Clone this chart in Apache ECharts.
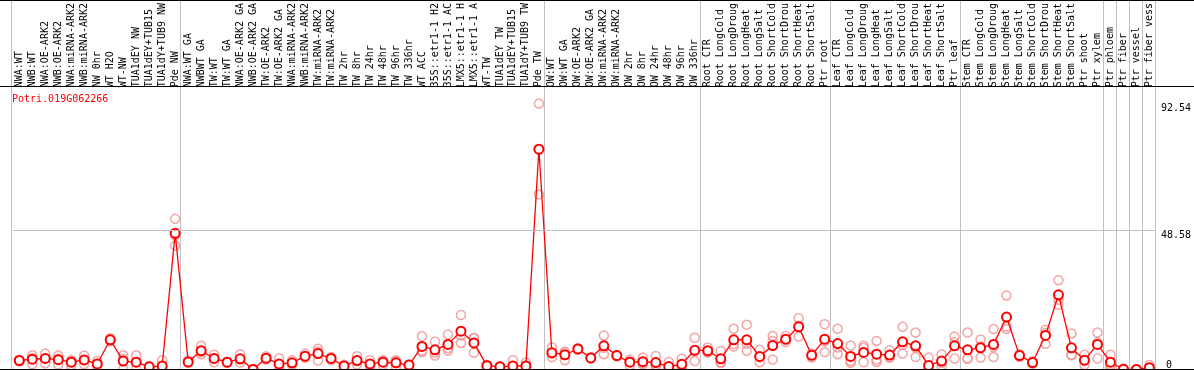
<!DOCTYPE html>
<html><head><meta charset="utf-8">
<script src="https://cdn.jsdelivr.net/npm/echarts@6/dist/echarts.min.js"></script>
<style>html,body{margin:0;padding:0;background:#fff}#c{width:1194px;height:370px}</style>
</head><body><div id="c"></div>
<script>
const geneName = 'Potri.019G062266';
const categories = ['NWA:WT','NWB:WT','NWA:OE-ARK2','NWB:OE-ARK2','NWA:miRNA-ARK2','NWB:miRNA-ARK2','NW 0hr','WT H2O','WT-NW','TUA1dEY NW','TUA1dEY+TUB15','TUA1dY+TUB9 NW','Pde NW',
'NWA:WT GA','NWBWT GA','TW:WT','TW:WT GA','NWA:OE-ARK2 GA','NWB:OE-ARK2 GA','TW:OE-ARK2','TW:OE-ARK2 GA','NWA:miRNA-ARK2','NWB:miRNA-ARK2','TW:miRNA-ARK2','TW:miRNA-ARK2','TW 2hr','TW 8hr','TW 24hr','TW 48hr','TW 96hr','TW 336hr','WT ACC','35S::etr1-1 H2','35S::etr1-1 AC','LMX5::etr1-1 H','LMX5::etr1-1 A','WT-TW','TUA1dEY TW','TUA1dEY+TUB15','TUA1dY+TUB9 TW','Pde TW',
'OW:WT','OW:WT GA','OW:OE-ARK2','OW:OE-ARK2 GA','OW:miRNA-ARK2','OW:miRNA-ARK2','OW 2hr','OW 8hr','OW 24hr','OW 48hr','OW 96hr','OW 336hr',
'Root CTR','Root LongCold','Root LongDroug','Root LongHeat','Root LongSalt','Root ShortCold','Root ShortDrou','Root ShortHeat','Root ShortSalt','Ptr root',
'Leaf CTR','Leaf LongCold','Leaf LongDroug','Leaf LongHeat','Leaf LongSalt','Leaf ShortCold','Leaf ShortDrou','Leaf ShortHeat','Leaf ShortSalt','Ptr leaf',
'Stem CTR','Stem LongCold','Stem LongDroug','Stem LongHeat','Stem LongSalt','Stem ShortCold','Stem ShortDrou','Stem ShortHeat','Stem ShortSalt','Ptr shoot','Ptr xylem',
'Ptr phloem','Ptr fiber','Ptr vessel','Ptr fiber vess'];
// indices of categories after which a divider is drawn
const groupEndIdx = [12, 40, 52, 62, 72, 83, 84, 85, 86, 87];
const meanValues = [3.3,3.75,4.0,3.6,2.7,3.5,2.1,10.5,3.1,2.7,1.1,1.4,47.5,
2.8,6.7,4.0,2.7,3.9,0.2,4.1,2.1,2.5,4.8,5.7,4.0,1.4,3.3,2.1,2.7,2.5,1.7,8.2,7.0,8.9,13.5,9.4,1.5,1.1,1.4,1.4,76.7,
6.0,5.3,7.3,4.2,8.4,5.0,2.7,2.9,2.6,1.2,2.0,6.9,
6.7,3.9,10.5,10.5,4.7,8.5,10.7,15.0,5.1,10.7,
9.2,4.7,6.1,5.5,5.2,9.8,8.4,1.6,3.1,8.4,
7.0,7.7,8.9,18.4,5.0,2.6,12.0,26.1,7.7,3.4,8.9,
2.7,0.3,0.2,0.8];
const rep1 = [3.6,5.1,5.7,5.0,3.5,5.0,3.1,11.0,5.1,5.1,1.3,3.4,52.5,
3.3,8.4,5.3,2.9,5.5,0.3,4.8,4.1,3.4,5.7,7.4,4.5,1.8,4.8,3.4,3.4,3.4,1.9,11.7,9.9,12.3,19.1,11.1,1.8,1.2,3.4,2.6,92.54,
7.9,6.3,7.6,4.4,12.0,5.2,3.6,4.3,4.9,2.8,3.9,11.2,
7.8,6.6,14.3,15.7,7.0,11.8,11.8,18.0,5.7,15.9,
14.3,8.5,8.4,10.1,6.9,15.0,13.0,4.3,5.4,11.6,
13.0,10.6,14.2,25.9,5.5,3.0,14.0,31.2,12.7,5.3,13.0,
5.3,0.4,0.2,1.7];
const rep2 = [3.0,2.0,2.3,1.9,1.6,2.0,1.1,10.0,0.3,0.3,0.9,0.3,43.2,
2.5,5.5,2.7,2.5,2.6,0.0,3.6,0.7,1.8,4.3,3.3,3.5,1.0,1.9,1.4,1.7,1.1,1.5,6.2,5.0,6.8,9.4,6.0,1.2,0.9,0.3,0.2,61.0,
4.5,3.4,7.0,4.0,5.5,4.8,1.6,2.0,1.2,0.3,0.9,3.1,
6.1,2.4,8.2,6.7,2.7,3.6,9.7,11.6,4.3,6.2,
5.5,2.5,2.7,2.8,4.3,5.7,4.5,0.2,1.4,4.0,
4.0,4.3,4.5,14.2,4.5,2.2,9.1,22.7,5.1,1.7,4.0,
1.0,0.2,0.2,0.3];
const rep3 = [3.3,4.1,4.0,3.9,3.0,3.5,2.1,10.5,3.9,2.7,1.1,0.5,46.8,
2.6,6.2,4.0,2.7,3.6,0.3,3.9,1.5,2.3,4.4,6.4,4.0,1.4,3.2,1.5,3.0,3.0,1.7,6.7,6.1,7.6,12.0,11.1,1.5,1.2,0.5,1.4,76.6,
5.6,6.2,7.3,4.2,7.7,5.0,2.9,2.4,1.7,0.5,1.2,6.4,
6.2,2.7,9.0,9.1,4.4,10.1,10.6,15.4,5.3,10.0,
7.8,3.1,7.6,3.6,4.4,8.7,7.7,0.3,2.5,9.6,
4.0,8.2,8.0,15.1,5.0,2.6,12.9,24.4,5.3,3.2,9.6,
1.8,0.3,0.2,0.4];
const yLabelValues = [48.58, 92.54];
const yZeroLabel = [0];
const yGridValues = [48.58];

const FONT = 'DejaVu Sans Mono';
const boundaries = Array.from({length: categories.length + 1}, (_, i) => String(i));
const dividerSet = new Set([0].concat(groupEndIdx.map(i => i + 1)));
const replicateData = [];
[rep1, rep2, rep3].forEach(r => r.forEach((v, i) => replicateData.push([i, v])));

const chart = echarts.init(document.getElementById('c'), null, {renderer: 'canvas'});
const yMax = 97.16;
chart.setOption({
  animation: false,
  backgroundColor: '#fff',
  title: {text: geneName, left: 7, top: 89,
    textStyle: {color: '#ff0000', fontSize: 10, fontFamily: FONT, fontWeight: 'normal'}},
  grid: [
    {left: 11, width: 1144, top: 0, bottom: 0, containLabel: false},
    {left: 12.8, width: 1144, top: 86, bottom: 0, containLabel: false}
  ],
  xAxis: [
    {gridIndex: 0, type: 'category', boundaryGap: false, data: boundaries,
      axisLine: {show: false}, axisTick: {show: false}, axisLabel: {show: false},
      splitLine: {show: true, interval: (idx) => dividerSet.has(idx), lineStyle: {color: '#c0c0c0', width: 1}}},
    {gridIndex: 1, type: 'category', boundaryGap: true, data: categories, position: 'top',
      axisLine: {show: false}, axisTick: {show: false}, splitLine: {show: false},
      axisLabel: {interval: 0, rotate: 90, margin: 3, fontFamily: FONT, fontSize: 10, color: '#000', hideOverlap: false}}
  ],
  yAxis: [
    {gridIndex: 0, type: 'value', min: 0, max: 1, show: false},
    {gridIndex: 1, type: 'value', min: 0, max: yMax, position: 'right',
      axisLine: {show: false}, axisTick: {show: false}, splitLine: {show: false},
      axisLabel: {customValues: yLabelValues, verticalAlign: 'top', margin: 5, fontFamily: FONT, fontSize: 10, color: '#000',
        formatter: v => v.toFixed(2)}},
    {gridIndex: 1, type: 'value', min: 0, max: yMax, position: 'right',
      axisLine: {show: false}, axisTick: {show: false}, splitLine: {show: false},
      axisLabel: {customValues: yZeroLabel, verticalAlign: 'bottom', margin: 10, fontFamily: FONT, fontSize: 10, color: '#000',
        formatter: v => String(v)}}
  ],
  graphic: [
    {type: 'line', shape: {x1: 0, y1: 0.5, x2: 1194, y2: 0.5}, style: {stroke: '#000', lineWidth: 1}, z: 100},
    {type: 'line', shape: {x1: 0, y1: 86.5, x2: 1194, y2: 86.5}, style: {stroke: '#000', lineWidth: 1}, z: 100},
    {type: 'line', shape: {x1: 0, y1: 369.5, x2: 1194, y2: 369.5}, style: {stroke: '#000', lineWidth: 1}, z: 100}
  ],
  series: [
    {type: 'line', xAxisIndex: 0, yAxisIndex: 0, data: [], silent: true},
    {type: 'scatter', name: 'replicates', xAxisIndex: 1, yAxisIndex: 1, data: replicateData,
      symbol: 'circle', symbolSize: 9, silent: true, z: 2,
      itemStyle: {color: 'rgba(0,0,0,0)', borderColor: '#f09090', borderWidth: 1.5}},
    {type: 'line', name: geneName, xAxisIndex: 1, yAxisIndex: 1, data: meanValues,
      symbol: 'emptyCircle', symbolSize: 9, showAllSymbol: true, z: 3, silent: true,
      lineStyle: {color: '#ff0000', width: 1.3},
      itemStyle: {color: '#ff0000', borderColor: '#ff0000', borderWidth: 1.8},
      markLine: {silent: true, symbol: 'none', label: {show: false}, animation: false,
        lineStyle: {color: '#c0c0c0', type: 'solid', width: 1},
        data: yGridValues.map(v => ({yAxis: v}))}}
  ]
});
</script>
</body></html>
